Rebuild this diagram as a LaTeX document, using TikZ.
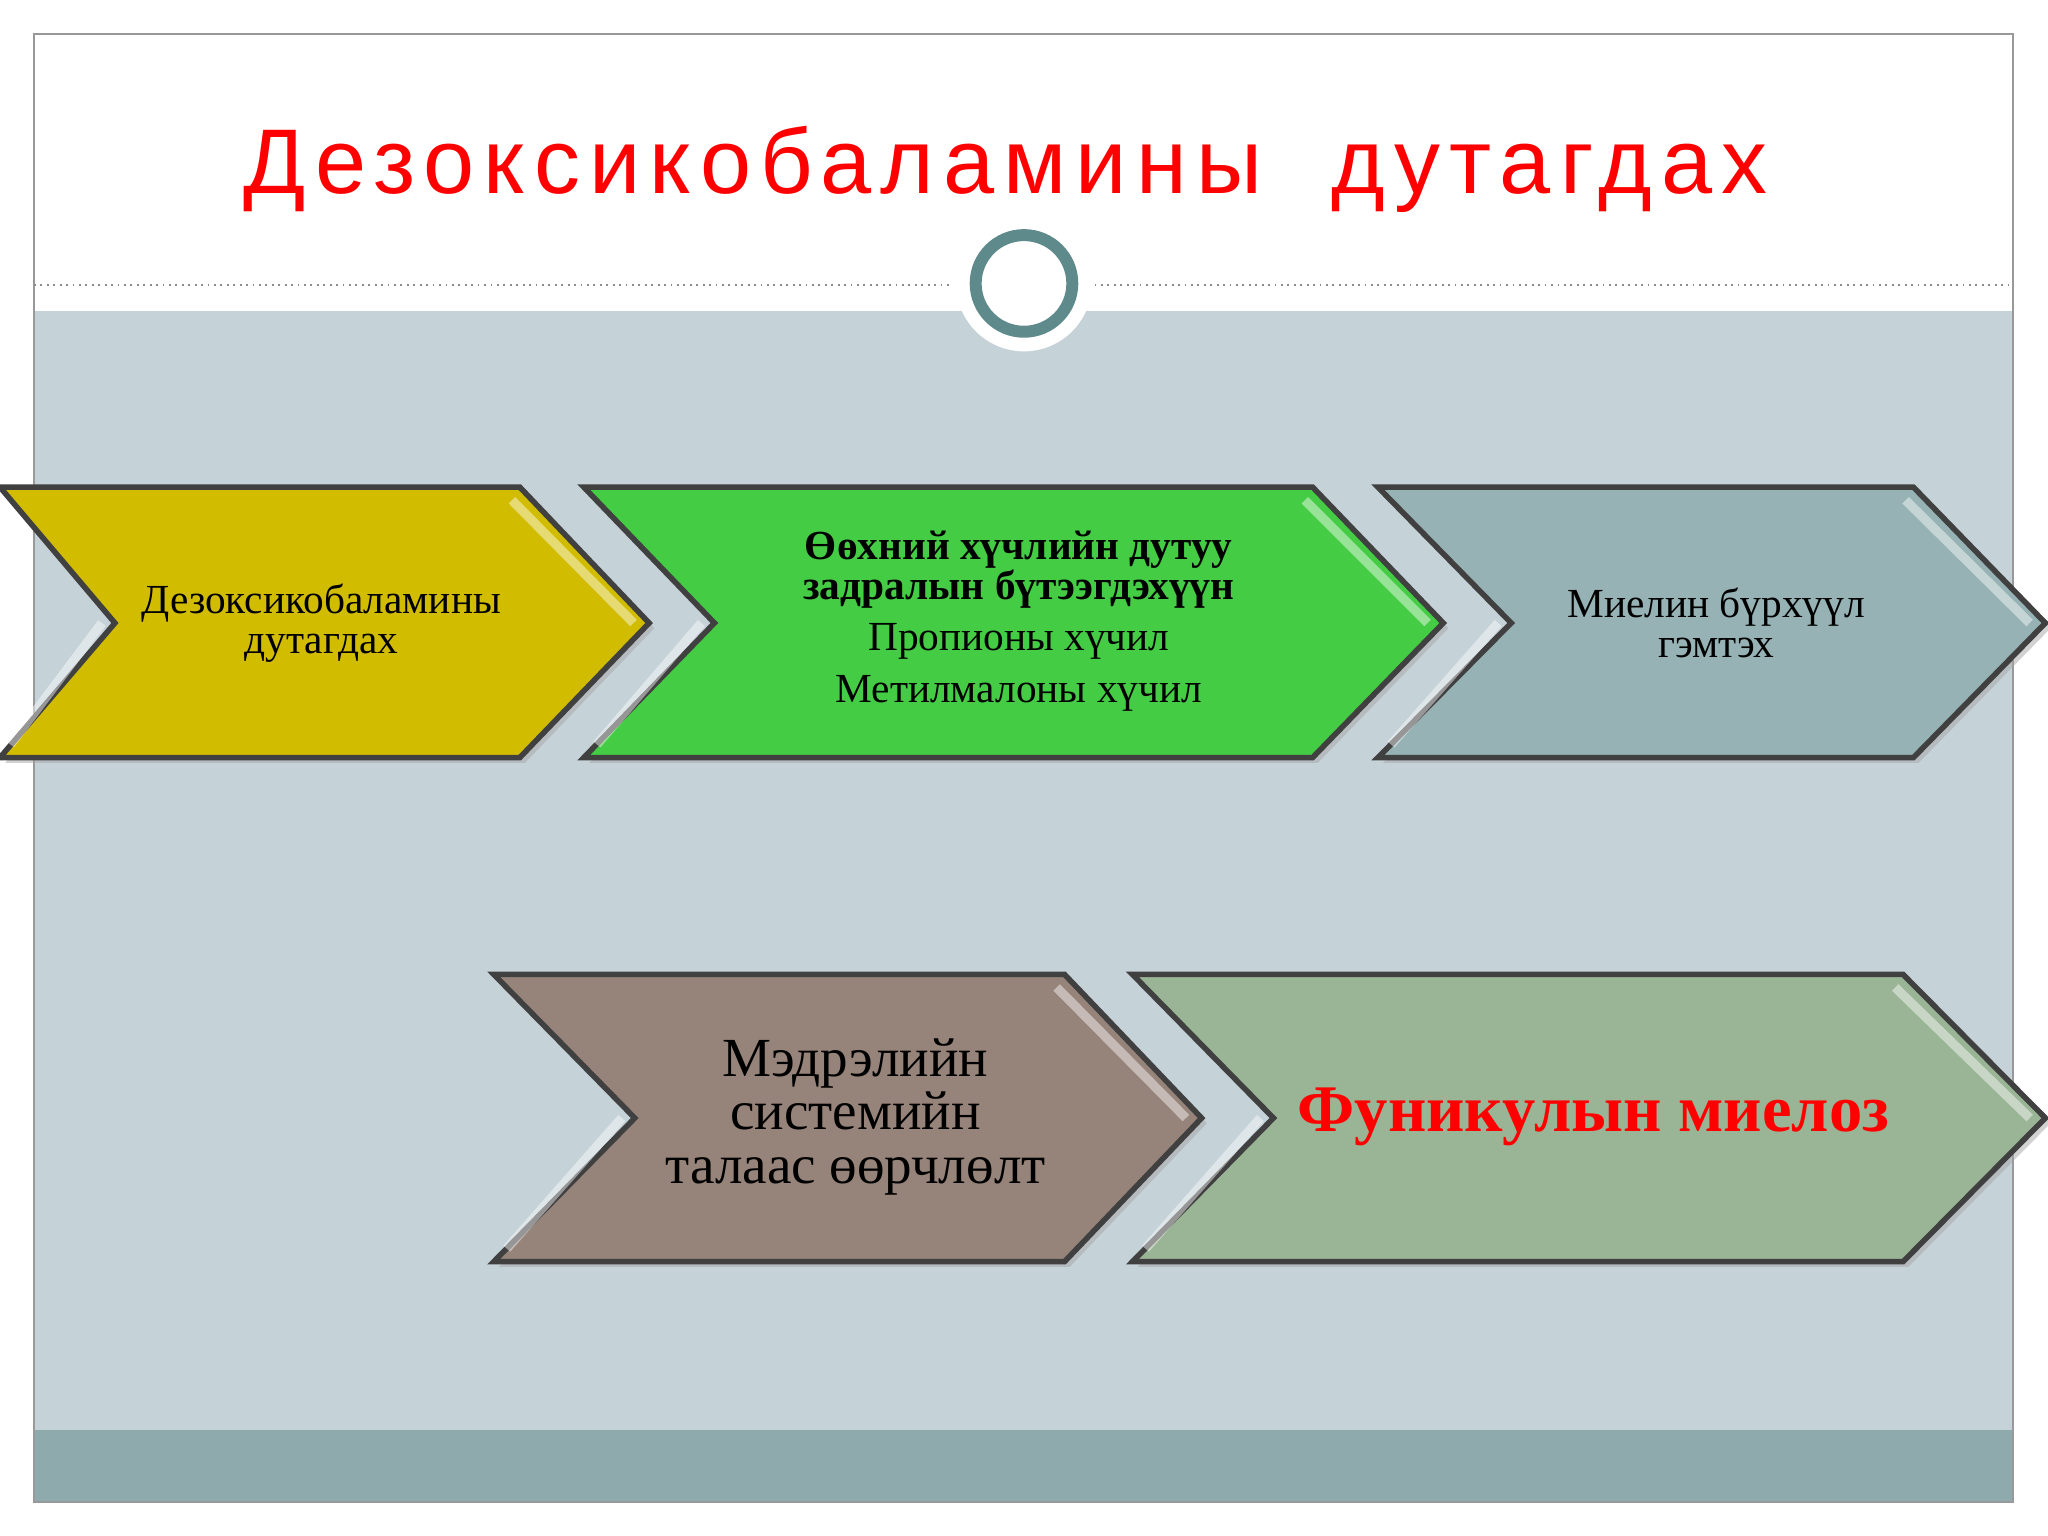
\documentclass[tikz,border=0pt]{standalone}
\usepackage{fontspec}
\setmainfont{Liberation Serif}
\newfontfamily\titlefont[LetterSpace=10]{Liberation Sans}
\begin{document}
\begin{tikzpicture}[x=0.01cm,y=-0.01cm]
\definecolor{bgblue}{HTML}{C5D2D8}
\definecolor{barc}{HTML}{8EAAAD}
\definecolor{ringc}{HTML}{5F8A8B}
\definecolor{cyel}{HTML}{D2BC00}
\definecolor{cgrn}{HTML}{44CC44}
\definecolor{cgry}{HTML}{96B2B4}
\definecolor{cbrn}{HTML}{968379}
\definecolor{cgg}{HTML}{9AB596}
\tikzset{chev/.style={draw=black!75,line width=1.2pt,line join=miter},
 shad/.style={fill=black!35,opacity=0.5},
 lbl/.style={align=center,font=\fontsize{9}{8.6}\selectfont},
 hl/.style={white,opacity=0.45,line width=2pt}}
\useasboundingbox (0,0) rectangle (1568,1176);
\fill[white] (0,0) rectangle (1568,1176);
\fill[bgblue] (26,238) rectangle (1541,1095);
\fill[barc] (26,1095) rectangle (1541,1150);
\draw[black!40] (26,26) rectangle (1541,1150);
\draw[black!45,densely dotted] (26,218) -- (730,218) (838,218) -- (1541,218);
\fill[white] (784,217) circle (52);
\draw[ringc,line width=2.6pt] (784,217) circle (37);
\node[text=red,font=\titlefont\fontsize{20}{21}\selectfont] (title) at (770,130) {Дезоксикобаламины\ \ дутагдах};
\fill[shad,xshift=0.04cm,yshift=-0.04cm] (0,373)--(398,373)--(497,477)--(398,580)--(0,580)--(88,477)--cycle;
\fill[shad,xshift=0.04cm,yshift=-0.04cm] (447,373)--(1005,373)--(1105,477)--(1005,580)--(447,580)--(547,477)--cycle;
\fill[shad,xshift=0.04cm,yshift=-0.04cm] (1055,373)--(1465,373)--(1566,477)--(1465,580)--(1055,580)--(1157,477)--cycle;
\fill[shad,xshift=0.04cm,yshift=-0.04cm] (378,746)--(815,746)--(920,856)--(815,966)--(378,966)--(486,856)--cycle;
\fill[shad,xshift=0.04cm,yshift=-0.04cm] (867,746)--(1457,746)--(1566,856)--(1457,966)--(867,966)--(975,856)--cycle;
\filldraw[chev,fill=cyel] (0,373)--(398,373)--(497,477)--(398,580)--(0,580)--(88,477)--cycle;
\filldraw[chev,fill=cgrn] (447,373)--(1005,373)--(1105,477)--(1005,580)--(447,580)--(547,477)--cycle;
\filldraw[chev,fill=cgry] (1055,373)--(1465,373)--(1566,477)--(1465,580)--(1055,580)--(1157,477)--cycle;
\filldraw[chev,fill=cbrn] (378,746)--(815,746)--(920,856)--(815,966)--(378,966)--(486,856)--cycle;
\filldraw[chev,fill=cgg] (867,746)--(1457,746)--(1566,856)--(1457,966)--(867,966)--(975,856)--cycle;
\draw[hl] (392,383)--(485,477); \draw[hl] (78,477)--(8,570);
\draw[hl] (999,383)--(1093,477); \draw[hl] (537,477)--(457,570);
\draw[hl] (1459,383)--(1554,477); \draw[hl] (1147,477)--(1065,570);
\draw[hl] (809,756)--(908,856); \draw[hl] (476,856)--(388,956);
\draw[hl] (1451,756)--(1554,856); \draw[hl] (965,856)--(877,956);
\node[lbl] (t1) at (246,477) {Дезоксикобаламины\\дутагдах};
\node[lbl,font=\bfseries\fontsize{9}{8.6}\selectfont] (t2a) at (780,436) {Өөхний хүчлийн дутуу\\задралын бүтээгдэхүүн};
\node[lbl] (t2b) at (780,491) {Пропионы хүчил};
\node[lbl] (t2c) at (780,531) {Метилмалоны хүчил};
\node[lbl] (t3) at (1314,477) {Миелин бүрхүүл\\гэмтэх};
\node[lbl,font=\fontsize{12}{11.6}\selectfont] (t4) at (655,855) {Мэдрэлийн\\системийн\\талаас өөрчлөлт};
\node[lbl,text=red,font=\bfseries\fontsize{14.5}{14}\selectfont] (t5) at (1220,855) {Фуникулын миелоз};
\end{tikzpicture}
\end{document}
